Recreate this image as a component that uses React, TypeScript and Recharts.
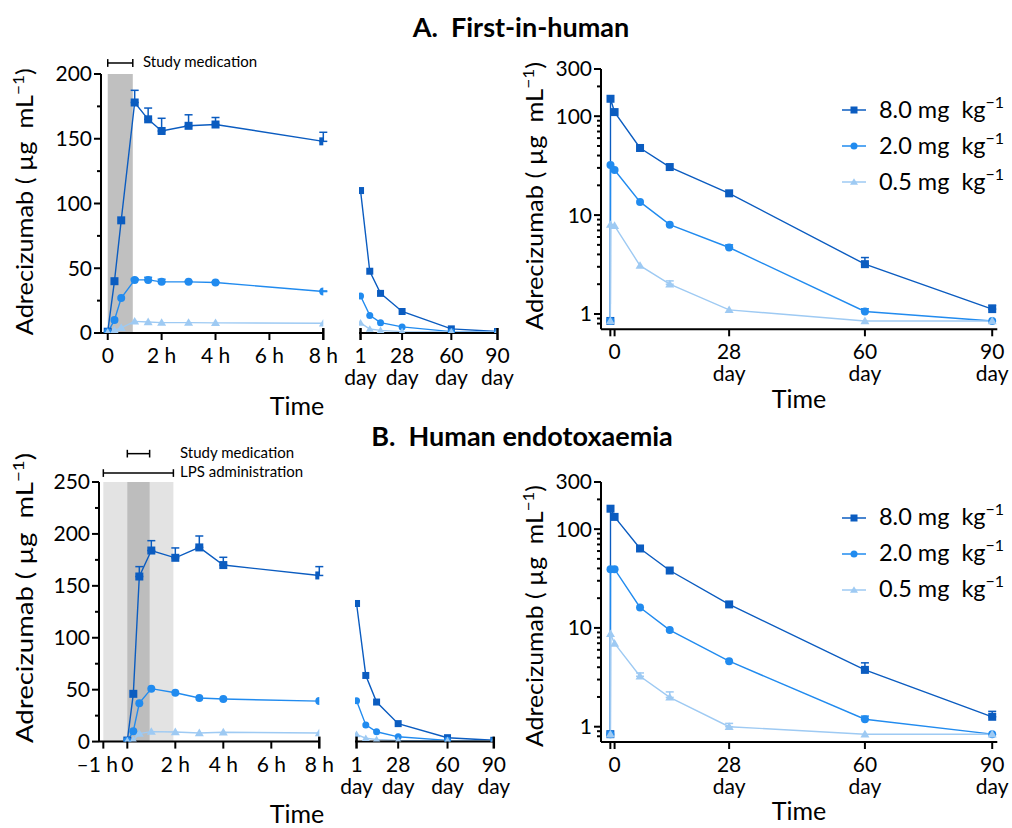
import React from 'react';
import { LineChart, Line, XAxis, YAxis, ErrorBar, ReferenceArea, ReferenceLine, Legend } from 'recharts';

const FONT = 'Lato, "Noto Sans", "DejaVu Sans", sans-serif';
const INK = '#000';

// ---------- series meta ----------
const doseLabels = ['8.0 mg', '2.0 mg', '0.5 mg'];
const doseColors = ['#0b5cc0', '#218bef', '#9ecaf3'];
const doseShapes = ['square', 'circle', 'triangle'];

// ---------- Panel A (first-in-human), hours ----------
const hoursA = [0, 0.25, 0.5, 1, 1.5, 2, 3, 4, 8];
const a8Hours = [1, 40, 87, 178, 165, 156, 160, 161, 148];
const a8HoursErr = [0, 0, 0, 9.4, 8.7, 9.8, 8.5, 5.4, 7];
const a2Hours = [0.5, 10, 27, 41, 41, 39.5, 39.5, 39, 32];
const a2HoursErr = [0, 0, 0, 1, 2, 2, 0.5, 0.5, 0.5];
const a05Hours = [0.3, 2, 4, 9, 8.5, 8, 8, 7.8, 7.5];
const a05HoursErr = [0, 0, 0, 0, 0, 0, 0, 0, 0];

// ---------- Panel A, days (pre-dose, end of infusion, day 1 ... day 90) ----------
const daysLog = [0, 0.04, 1, 7, 14, 28, 60, 90];
const a8Days = [0.85, 150, 110, 47.7, 30.6, 16.6, 3.19, 1.12];
const a8DaysErr = [0, 0, 0, 0, 0, 0, 0.53, 0.11];
const a2Days = [0.85, 32.1, 28.6, 13.6, 8.0, 4.7, 1.06, 0.85];
const a2DaysErr = [0, 0, 0, 0, 0, 0.3, 0.07, 0];
const a05Days = [0.85, 8.0, 7.8, 3.08, 2.0, 1.1, 0.85, 0.85];
const a05DaysErr = [0, 0, 0, 0, 0.16, 0, 0, 0];

// ---------- Panel B (human endotoxaemia), hours ----------
const hoursB = [0, 0.25, 0.5, 1, 2, 3, 4, 8];
const b8Hours = [1, 46, 159, 184, 177, 187, 170, 160];
const b8HoursErr = [0, 0, 9.5, 9.5, 9.5, 11, 7.5, 8.5];
const b2Hours = [0.5, 10, 37, 51, 47, 42, 41, 39];
const b2HoursErr = [0, 0, 0, 0, 0, 0, 0, 0];
const b05Hours = [0.3, 1.3, 7.7, 9.6, 9.3, 8.3, 9, 8.3];
const b05HoursErr = [0, 0, 0, 0, 0, 0, 0, 0];

// ---------- Panel B, days ----------
const b8Days = [0.84, 161, 133, 63.7, 38.1, 17.3, 3.76, 1.26];
const b8DaysErr = [0, 0, 0, 0, 0, 0, 0.67, 0.17];
const b2Days = [0.84, 39.3, 39.3, 16.1, 9.5, 4.6, 1.19, 0.84];
const b2DaysErr = [0, 0, 0, 0, 0, 0, 0.09, 0];
const b05Days = [0.84, 8.7, 6.96, 3.24, 1.98, 1.0, 0.84, 0.84];
const b05DaysErr = [0, 0, 0, 0.26, 0.27, 0.08, 0, 0];

// ---------- axes ----------
const yTicksA = [0, 25, 50, 75, 100, 125, 150, 175, 200];
const yTicksB = [0, 25, 50, 75, 100, 125, 150, 175, 200, 225, 250];
const yTicksLog = [0.8, 0.9, 1, 2, 3, 4, 5, 6, 7, 8, 9, 10, 20, 30, 40, 50, 60, 70, 80, 90, 100, 200, 300];
const yLogMajor = [1, 10, 100, 300];
const hourTicksA = [0, 2, 4, 6, 8];
const hourTicksB = [-1, 0, 2, 4, 6, 8];
const hourTickText: Record<string, string> = { '-1': '\u20131 h', '0': '0', '2': '2 h', '4': '4 h', '6': '6 h', '8': '8 h' };
const dayTicks = [1, 28, 60, 90];
const logDayTicks = [0, 1, 28, 60, 90];
const dayTickText: Record<string, string[]> = { '0': [], '1': ['1', 'day'], '28': ['28', 'day'], '60': ['60', 'day'], '90': ['90', 'day'] };
const logDayTickText: Record<string, string[]> = { '0': [], '1': ['0'], '28': ['28', 'day'], '60': ['60', 'day'], '90': ['90', 'day'] };

// shaded intervals (hours)
const studyMedA = [0, 0.93];
const studyMedB = [0, 0.93];
const lpsB = [-1, 1.92];

type Pt = { x: number; y: number; e?: [number, number] };
const build = (xs: number[], ys: number[], errs: number[]): Pt[] =>
  xs.map((x, i) => (errs[i] > 0 ? { x, y: ys[i], e: [0, errs[i]] } : { x, y: ys[i] }));

const hoursSeriesA = [build(hoursA, a8Hours, a8HoursErr), build(hoursA, a2Hours, a2HoursErr), build(hoursA, a05Hours, a05HoursErr)];
const hoursSeriesB = [build(hoursB, b8Hours, b8HoursErr), build(hoursB, b2Hours, b2HoursErr), build(hoursB, b05Hours, b05HoursErr)];
const logSeriesA = [build(daysLog, a8Days, a8DaysErr), build(daysLog, a2Days, a2DaysErr), build(daysLog, a05Days, a05DaysErr)];
const logSeriesB = [build(daysLog, b8Days, b8DaysErr), build(daysLog, b2Days, b2DaysErr), build(daysLog, b05Days, b05DaysErr)];
// linear day panels show day 1 .. day 90
const daySeriesA = logSeriesA.map((s) => s.slice(2));
const daySeriesB = logSeriesB.map((s) => s.slice(2));

// ---------- marks ----------
function Marker({ shape, cx, cy, color, size }: any) {
  if (cx == null || cy == null || isNaN(cx) || isNaN(cy)) return null;
  const s = size;
  if (shape === 'square') return <rect x={cx - s / 2} y={cy - s / 2} width={s} height={s} fill={color} />;
  if (shape === 'circle') return <circle cx={cx} cy={cy} r={s / 2} fill={color} />;
  return (
    <polygon
      points={`${cx},${cy - s * 0.55} ${cx - s / 2 - 0.5},${cy + s * 0.4} ${cx + s / 2 + 0.5},${cy + s * 0.4}`}
      fill={color}
    />
  );
}
const dotFor = (i: number, size: number) => (p: any) => (
  <Marker key={`d${i}-${p.index}`} shape={doseShapes[i]} cx={p.cx} cy={p.cy} color={doseColors[i]} size={size} />
);

// ---------- ticks ----------
const makeYTick = (isMajor: (v: number) => boolean) => (p: any) => {
  const { x, y, payload } = p;
  const v = payload.value;
  const major = isMajor(v);
  return (
    <g>
      <line x1={x - (major ? 7 : 4)} x2={x} y1={y} y2={y} stroke={INK} strokeWidth={2} />
      {major && (
        <text x={x - 9} y={y + 7.5} textAnchor="end" fontSize={21} fontFamily={FONT} fill={INK}>
          {String(v)}
        </text>
      )}
    </g>
  );
};

const makeXTick = (labels: Record<string, string[]>, cross: number[], dx: Record<string, number> = {}) => (p: any) => {
  const { x, y, payload } = p;
  const v = payload.value;
  const lines = labels[String(v)] || [];
  const c = cross.includes(v);
  const off = dx[String(v)] || 0;
  return (
    <g>
      <line x1={x} x2={x} y1={c ? y - 5 : y} y2={y + 7} stroke={INK} strokeWidth={c ? 2.5 : 2} />
      {lines.map((t, i) => (
        <text key={i} x={x + off} y={y + 30 + i * 22} textAnchor="middle" fontSize={21} fontFamily={FONT} fill={INK}>
          {t}
        </text>
      ))}
    </g>
  );
};

const hourLabels = (ticks: number[]) => {
  const r: Record<string, string[]> = {};
  ticks.forEach((t) => (r[String(t)] = [hourTickText[String(t)]]));
  return r;
};

// ---------- legend ----------
const LegendBox = (props: any) => {
  const payload = [...(props.payload || [])].sort(
    (a: any, b: any) => doseLabels.indexOf(a.value) - doseLabels.indexOf(b.value)
  );
  return (
    <div style={{ fontFamily: FONT, color: INK }}>
      {payload.map((entry: any) => {
        const k = doseLabels.indexOf(entry.value);
        return (
          <div key={entry.value} style={{ display: 'flex', alignItems: 'center', height: 36 }}>
            <svg width={24} height={12} style={{ overflow: 'visible' }}>
              <line x1={0} x2={24} y1={6} y2={6} stroke={doseColors[k]} strokeWidth={1.5} />
              <Marker shape={doseShapes[k]} cx={12} cy={6} color={doseColors[k]} size={7} />
            </svg>
            <span style={{ marginLeft: 13, fontSize: 23.5, whiteSpace: 'pre', lineHeight: '36px' }}>
              {entry.value + '  kg'}
              <span style={{ fontSize: 16, position: 'relative', top: -10 }}>{'\u22121'}</span>
            </span>
          </div>
        );
      })}
    </div>
  );
};

// ---------- chart builders ----------
const Y_W = 70;
const M_TOP = 40;
const X_H = 65;

function HoursChart({ L, T, W, H, domainX, ticksX, domainY, ticksY, series, bands, bars }: any) {
  const width = Y_W + W + 30;
  const height = M_TOP + H + X_H;
  return (
    <div style={{ position: 'absolute', left: L - Y_W, top: T - M_TOP, width, height }}>
      <LineChart width={width} height={height} margin={{ top: M_TOP, right: 30, bottom: 0, left: 0 }}>
        <XAxis
          type="number"
          dataKey="x"
          domain={domainX}
          ticks={ticksX}
          interval={0}
          allowDataOverflow
          height={X_H}
          axisLine={{ stroke: INK, strokeWidth: 2 }}
          tickLine={false}
          tickSize={0}
          tickMargin={0}
          tick={makeXTick(hourLabels(ticksX), [8], { '-1': -6 })}
        />
        <YAxis
          type="number"
          domain={domainY}
          ticks={ticksY}
          interval={0}
          allowDataOverflow
          width={Y_W}
          axisLine={{ stroke: INK, strokeWidth: 2 }}
          tickLine={false}
          tickSize={0}
          tickMargin={0}
          tick={makeYTick((v) => v % 50 === 0)}
        />
        {bands.map((b: any, i: number) => (
          <ReferenceArea key={`b${i}`} x1={b.x[0]} x2={b.x[1]} fill={b.fill} fillOpacity={1} stroke="none" ifOverflow="visible" />
        ))}
        {bars.map((b: any, i: number) => (
          <ReferenceLine
            key={`l${i}`}
            segment={[{ x: b.x[0], y: b.y }, { x: b.x[1], y: b.y }]}
            stroke={INK}
            strokeWidth={1.5}
            ifOverflow="visible"
          />
        ))}
        {bars.map((b: any, i: number) =>
          [0, 1].map((k) => (
            <ReferenceLine
              key={`c${i}-${k}`}
              segment={[{ x: b.x[k], y: b.y - b.cap }, { x: b.x[k], y: b.y + b.cap }]}
              stroke={INK}
              strokeWidth={1.5}
              ifOverflow="visible"
            />
          ))
        )}
        {series.map((s: Pt[], i: number) => (
          <Line
            key={i}
            data={s}
            dataKey="y"
            name={doseLabels[i]}
            type="linear"
            stroke={doseColors[i]}
            strokeWidth={1.4}
            dot={dotFor(i, 8)}
            activeDot={false}
            isAnimationActive={false}
          >
            <ErrorBar dataKey="e" width={4} stroke={doseColors[i]} strokeWidth={1.5} direction="y" isAnimationActive={false} />
          </Line>
        ))}
      </LineChart>
    </div>
  );
}

function DaysChart({ L, T, W, H, domainY, series }: any) {
  const PADL = 30;
  const width = PADL + W + 22;
  const height = M_TOP + H + X_H;
  return (
    <div style={{ position: 'absolute', left: L - PADL, top: T - M_TOP, width, height }}>
      <LineChart width={width} height={height} margin={{ top: M_TOP, right: 22, bottom: 0, left: PADL }}>
        <XAxis
          type="number"
          dataKey="x"
          domain={[0, 90]}
          ticks={dayTicks}
          interval={0}
          allowDataOverflow
          height={X_H}
          axisLine={{ stroke: INK, strokeWidth: 2 }}
          tickLine={false}
          tickSize={0}
          tickMargin={0}
          tick={makeXTick(dayTickText, [1, 90])}
        />
        <YAxis hide type="number" domain={domainY} allowDataOverflow />
        {series.map((s: Pt[], i: number) => (
          <Line
            key={i}
            data={s}
            dataKey="y"
            name={doseLabels[i]}
            type="linear"
            stroke={doseColors[i]}
            strokeWidth={1.4}
            dot={dotFor(i, 7)}
            activeDot={false}
            isAnimationActive={false}
          />
        ))}
      </LineChart>
    </div>
  );
}

function LogChart({ L, T, W, H, series, legendTop }: any) {
  const width = Y_W + W + 14;
  const height = M_TOP + H + X_H;
  return (
    <div style={{ position: 'absolute', left: L - Y_W, top: T - M_TOP, width, height }}>
      <LineChart width={width} height={height} margin={{ top: M_TOP, right: 14, bottom: 0, left: 0 }}>
        <XAxis
          type="number"
          dataKey="x"
          domain={[-2.2, 91.2]}
          ticks={logDayTicks}
          interval={0}
          allowDataOverflow
          height={X_H}
          axisLine={{ stroke: INK, strokeWidth: 2 }}
          tickLine={false}
          tickSize={0}
          tickMargin={0}
          tick={makeXTick(logDayTickText, [])}
        />
        <YAxis
          type="number"
          scale="log"
          domain={[0.7, 300]}
          ticks={yTicksLog}
          interval={0}
          allowDataOverflow
          width={Y_W}
          axisLine={{ stroke: INK, strokeWidth: 2 }}
          tickLine={false}
          tickSize={0}
          tickMargin={0}
          tick={makeYTick((v) => yLogMajor.includes(v))}
        />
        <Legend
          layout="vertical"
          align="center"
          verticalAlign="middle"
          wrapperStyle={{ left: 842 - (L - Y_W), top: legendTop, width: 175 }}
          content={<LegendBox />}
        />
        {series.map((s: Pt[], i: number) => (
          <Line
            key={i}
            data={s}
            dataKey="y"
            name={doseLabels[i]}
            type="linear"
            stroke={doseColors[i]}
            strokeWidth={1.4}
            dot={dotFor(i, 8)}
            activeDot={false}
            isAnimationActive={false}
          >
            <ErrorBar dataKey="e" width={4} stroke={doseColors[i]} strokeWidth={1.5} direction="y" isAnimationActive={false} />
          </Line>
        ))}
      </LineChart>
    </div>
  );
}

function YLabel({ x, cy, len }: any) {
  return (
    <text
      transform={`translate(${x},${cy}) rotate(-90)`}
      textAnchor="middle"
      fontSize={23.5}
      fontFamily={FONT}
      fill={INK}
      textLength={len}
      lengthAdjust="spacingAndGlyphs"
      style={{ whiteSpace: 'pre' }}
    >
      {'Adrecizumab ( \u00b5g  mL'}
      <tspan dy={-9} fontSize={16}>{'\u22121'}</tspan>
      <tspan dy={9}>)</tspan>
    </text>
  );
}

export default function App() {
  return (
    <div style={{ position: 'absolute', left: 0, top: 0, width: 1012, height: 828, overflow: 'hidden', background: '#fff', fontFamily: FONT }}>
      <HoursChart
        L={101}
        T={73.7}
        W={222.3}
        H={259}
        domainX={[-0.25, 8]}
        ticksX={hourTicksA}
        domainY={[0, 200]}
        ticksY={yTicksA}
        series={hoursSeriesA}
        bands={[{ x: studyMedA, fill: '#c0c0c0' }]}
        bars={[{ x: studyMedA, y: 208.5, cap: 3 }]}
      />
      <DaysChart L={359.2} T={73.7} W={138.5} H={259} domainY={[0, 200]} series={daySeriesA} />
      <LogChart L={600.7} T={69} W={396.3} H={260.3} series={logSeriesA} legendTop={63} />

      <HoursChart
        L={99}
        T={481.7}
        W={220.3}
        H={259.6}
        domainX={[-1.18, 8]}
        ticksX={hourTicksB}
        domainY={[0, 250]}
        ticksY={yTicksB}
        series={hoursSeriesB}
        bands={[
          { x: lpsB, fill: '#e3e3e3' },
          { x: studyMedB, fill: '#bdbdbd' },
        ]}
        bars={[
          { x: studyMedB, y: 277.3, cap: 3.7 },
          { x: lpsB, y: 258.6, cap: 3.7 },
        ]}
      />
      <DaysChart L={354.5} T={481.7} W={138.8} H={259.6} domainY={[0, 250]} series={daySeriesB} />
      <LogChart L={600.7} T={481.7} W={396.3} H={260} series={logSeriesB} legendTop={58} />

      <svg width={1012} height={828} style={{ position: 'absolute', left: 0, top: 0, pointerEvents: 'none' }} fontFamily={FONT}>
        <text x={521} y={37} textAnchor="middle" fontWeight="bold" fontSize={27} fill={INK} style={{ whiteSpace: 'pre' }}>
          {'A.  First-in-human'}
        </text>
        <text x={522} y={446} textAnchor="middle" fontWeight="bold" fontSize={27} fill={INK} style={{ whiteSpace: 'pre' }}>
          {'B.  Human endotoxaemia'}
        </text>

        <YLabel x={33.3} cy={201.7} len={267} />
        <YLabel x={543.3} cy={196} len={268} />
        <YLabel x={33.3} cy={598} len={290} />
        <YLabel x={543.3} cy={616} len={262} />

        <text x={297} y={415} textAnchor="middle" fontSize={25} fill={INK}>Time</text>
        <text x={799} y={408} textAnchor="middle" fontSize={25} fill={INK}>Time</text>
        <text x={297} y={823} textAnchor="middle" fontSize={25} fill={INK}>Time</text>
        <text x={799} y={820} textAnchor="middle" fontSize={25} fill={INK}>Time</text>

        <text x={143} y={67.3} fontSize={15} fill={INK}>Study medication</text>
        <text x={180} y={457.5} fontSize={15} fill={INK}>Study medication</text>
        <text x={180} y={477} fontSize={15} fill={INK}>LPS administration</text>
      </svg>
    </div>
  );
}
